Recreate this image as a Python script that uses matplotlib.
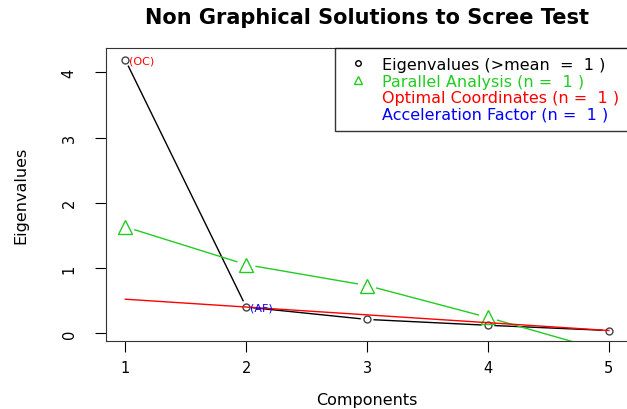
import numpy as np
import matplotlib.pyplot as plt
from matplotlib.lines import Line2D

plt.rcParams['font.family'] = ['DejaVu Sans']

components = [1, 2, 3, 4, 5]
eigenvalues = [4.19, 0.40, 0.21, 0.12, 0.04]
parallel = [1.63, 1.05, 0.73, 0.24, -0.29]
oc_x = [1, 5]
oc_y = [0.52, 0.04]
legend_labels = ["Eigenvalues (>mean  =  1 )", "Parallel Analysis (n =  1 )",
                 "Optimal Coordinates (n =  1 )", "Acceleration Factor (n =  1 )"]


def gapped_line(ax, xs, ys, gap, **kw):
    # R type="b": line segments stop short of the points
    pts = ax.transData.transform(np.column_stack([xs, ys]))
    inv = ax.transData.inverted()
    for p0, p1 in zip(pts[:-1], pts[1:]):
        d = p1 - p0
        n = np.hypot(*d)
        if n <= 2 * gap:
            continue
        u = d / n
        a, b = inv.transform([p0 + u * gap, p1 - u * gap])
        ax.plot([a[0], b[0]], [a[1], b[1]], **kw)


fig = plt.figure(figsize=(6.27, 4.10), dpi=100)
ax = fig.add_axes([0.169, 0.166, 0.833, 0.714])
ax.set_xlim(0.84, 5.16)
ax.set_ylim(-0.12, 4.37)

gapped_line(ax, components, eigenvalues, 7, color='black', lw=1)
ax.plot(components, eigenvalues, 'o', mfc='none', mec='#444444', ms=5, mew=1)

gapped_line(ax, components, parallel, 10, color='#22cc22', lw=1)
ax.plot(components, parallel, '^', mfc='none', mec='#22cc22', ms=10, mew=1)

ax.plot(oc_x, oc_y, color='red', lw=1)

ax.text(1.03, eigenvalues[0] - 0.08, "(OC)", color='red', fontsize=8, va='bottom', ha='left')
ax.text(2.03, eigenvalues[1] - 0.08, "(AF)", color='blue', fontsize=8, va='bottom', ha='left')

ax.set_xticks(components)
ax.set_yticks([0, 1, 2, 3, 4])
ax.tick_params(direction='out', length=8, labelsize=10.5)
ax.tick_params(axis='x', pad=6)
ax.tick_params(axis='y', pad=13)
plt.setp(ax.get_yticklabels(), rotation=90, va='center')
for s in ax.spines.values():
    s.set_color('#333333')

ax.set_title("Non Graphical Solutions to Scree Test", fontsize=15, fontweight='bold', pad=18)
ax.set_xlabel("Components", fontsize=11.5, labelpad=12)
ax.set_ylabel("Eigenvalues", fontsize=11.5, labelpad=24)

handles = [Line2D([], [], marker='o', ls='none', mfc='none', mec='black', ms=4),
           Line2D([], [], marker='^', ls='none', mfc='none', mec='#22cc22', ms=6),
           Line2D([], [], ls='none'),
           Line2D([], [], ls='none')]
leg = ax.legend(handles, legend_labels, loc='upper right', bbox_to_anchor=(1.0, 1.0),
                fontsize=11.5, labelcolor=['black', '#22cc22', 'red', 'blue'],
                frameon=True, fancybox=False, edgecolor='black', borderaxespad=0,
                handlelength=1.8, handletextpad=0.6, labelspacing=0.1, borderpad=0.55)
leg.get_frame().set_linewidth(1)

fig.savefig("out.png", dpi=100)
